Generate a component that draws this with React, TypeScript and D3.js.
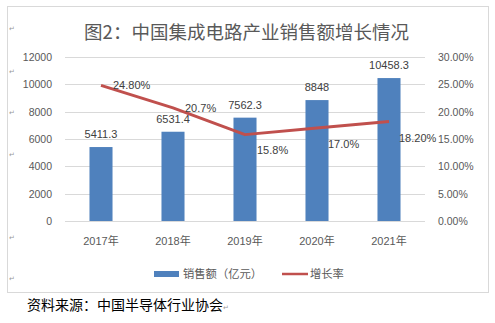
import React from "react";
import * as d3 from "d3";

const categories = ["2017年", "2018年", "2019年", "2020年", "2021年"];
const sales = [5411.3, 6531.4, 7562.3, 8848, 10458.3];
const salesLabels = ["5411.3", "6531.4", "7562.3", "8848", "10458.3"];
const growth = [0.248, 0.207, 0.158, 0.17, 0.182];
const growthLabels = ["24.80%", "20.7%", "15.8%", "17.0%", "18.20%"];
const leftTicks = [0, 2000, 4000, 6000, 8000, 10000, 12000];
const rightTicks = [0, 0.05, 0.1, 0.15, 0.2, 0.25, 0.3];
const title = "图2：中国集成电路产业销售额增长情况";
const source = "资料来源：中国半导体行业协会";
const legendBar = "销售额（亿元）";
const legendLine = "增长率";

export default function App() {
  const W = 495, H = 323;
  const left = 65, right = 425, top = 57, bottom = 221;
  const x = d3.scaleBand<string>().domain(categories).range([left, right]).paddingInner(0.68).paddingOuter(0.34);
  const yL = d3.scaleLinear().domain([0, 12000]).range([bottom, top]);
  const yR = d3.scaleLinear().domain([0, 0.3]).range([bottom, top]);
  const cx = (c: string) => (x(c) as number) + x.bandwidth() / 2;
  const line = d3.line<number>().x((_, i) => cx(categories[i])).y((d) => yR(d));
  const labelOff = [[12, 0], [12, 0], [12, 15], [11, 16], [10, 16]];
  const font = "'Liberation Sans', 'Noto Sans CJK SC', sans-serif";
  const cjk = "'Noto Sans CJK SC', sans-serif";
  const marks = [28, 71, 112, 154, 237, 278];
  return (
    <svg width={W} height={H} style={{ position: "absolute", left: 0, top: 0, background: "#fff" }}>
      <rect x={7.5} y={6.5} width={481} height={286} fill="#fff" stroke="#d9d9d9" />
      {marks.map((m, i) => (
        <text key={i} x={9} y={m + 3} fontSize={7} fill="#9a9a9a" fontFamily={font}>↵</text>
      ))}
      <text x={246.5} y={39} textAnchor="middle" fontSize={18.5} fill="#595959" fontFamily={cjk}>{title}</text>
      {leftTicks.map((t) => (
        <line key={t} x1={left} x2={right} y1={Math.round(yL(t)) + 0.5} y2={Math.round(yL(t)) + 0.5} stroke="#d9d9d9" />
      ))}
      {leftTicks.map((t) => (
        <text key={t} x={52} y={yL(t) + 4} textAnchor="end" fontSize={10.5} fill="#595959" fontFamily={font}>{t}</text>
      ))}
      {rightTicks.map((t) => (
        <text key={t} x={438} y={yR(t) + 4} fontSize={10.5} fill="#595959" fontFamily={font}>{d3.format(".2%")(t)}</text>
      ))}
      {categories.map((c, i) => (
        <rect key={c} x={x(c)} y={yL(sales[i])} width={x.bandwidth()} height={bottom - yL(sales[i])} fill="#4f81bd" />
      ))}
      {categories.map((c, i) => (
        <text key={c} x={cx(c)} y={yL(sales[i]) - 9} textAnchor="middle" fontSize={11} fill="#404040" fontFamily={font}>{salesLabels[i]}</text>
      ))}
      {categories.map((c) => (
        <text key={c} x={cx(c)} y={245} textAnchor="middle" fontSize={11} fill="#595959" fontFamily={font}>{c}</text>
      ))}
      <path d={line(growth) || ""} fill="none" stroke="#c0504d" strokeWidth={3} strokeLinejoin="round" />
      {categories.map((c, i) => (
        <text key={c} x={cx(c) + labelOff[i][0]} y={yR(growth[i]) + labelOff[i][1] + 4} fontSize={11} fill="#404040" fontFamily={font}>{growthLabels[i]}</text>
      ))}
      <rect x={154} y={271} width={25} height={6} fill="#4f81bd" />
      <text x={183} y={278} fontSize={11.3} fill="#595959" fontFamily={cjk}>{legendBar}</text>
      <line x1={282} x2={308} y1={274} y2={274} stroke="#c0504d" strokeWidth={2.5} />
      <text x={310} y={278} fontSize={11.3} fill="#595959" fontFamily={cjk}>{legendLine}</text>
      <text x={27} y={310} fontSize={14} fill="#000" fontWeight={400} fontFamily={cjk}>{source}</text>
      <text x={223} y={310} fontSize={7} fill="#9a9a9a" fontFamily={font}>↵</text>
    </svg>
  );
}
